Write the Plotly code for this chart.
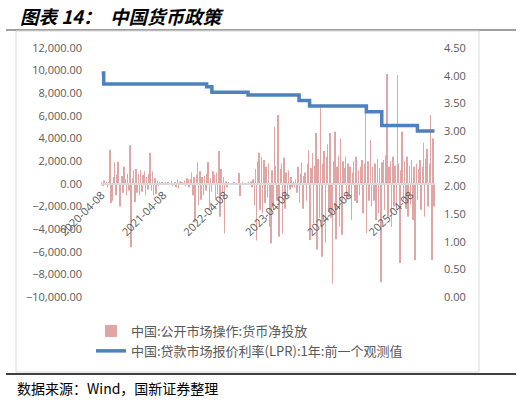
import pandas as pd
import plotly.graph_objects as go

# 中国:公开市场操作:货币净投放 (亿元), one value per week from 2020-04-08
omo_start = '2020-04-08'
omo_net = [
    150, -200, 300, -100, 200, -300, 100, 3000, -1700, -1500,
    600, 1900, -1000, 800, 1950, -2000, -2000, 700, -800, 1500,
    400, -1000, 900, -600, 3400, -5600, 500, 1200, -1600, 1300,
    -800, 900, -1000, 1200, -700, 800, 1100, -1000, 600, -500,
    900, 2750, -600, 1100, -1000, 500, -900, 300, -200, 100,
    -100, 100, 0, -100, 100, 0, 100, -100, 0, 300,
    -200, 0, 100, -300, 400, -400, 200, 0, 100, -100,
    300, -200, 500, 400, -300, 420, 1000, -1000, 600, -3350,
    800, 1930, -1900, 1100, -1400, 600, -1000, 700, -600, 900,
    1930, -2300, 500, -700, 1100, 800, -1400, 1000, -900, 2900,
    -2900, 1300, -800, 600, -4380, 200, -300, 100, -100, 0,
    50, -50, 100, 0, -100, 50, 950, -1080, 0, 100,
    -100, 0, 50, -50, 100, 0, 200, -300, 400, -1900,
    1300, -5000, 2000, 2750, -2300, 2400, -2600, 2100, -1700, 1500,
    -1200, 1800, -3800, -5240, 1200, -2000, 5050, 1600, -1500, 6090,
    -4680, 1300, 1800, -4400, 2300, -2200, 1000, -1200, 1200, -500,
    600, -300, 200, -300, 400, -800, 1500, -1700, 900, 1900,
    -2200, 700, 1000, -1500, 1800, 2960, -4970, 1400, 2700, -3500,
    1600, 4490, -5800, 2200, -3000, 7000, -6450, 1800, 2900, -5200,
    2400, 3500, -2500, 4500, -3000, -8800, 2000, 4600, -4900, 1500,
    2500, -3800, 4000, -4500, 2000, 1400, 2400, -1400, 1800, -1200,
    1500, -3200, 1000, 2000, -1500, 2400, -1700, 1200, -1000, 1500,
    2100, -2600, 1800, 6500, -4350, 2000, -1500, 3880, -2000, 1500,
    -1500, 1800, -3200, 2200, -2600, 1400, -8700, 1900, 2100, -2300,
    2500, 9700, -2900, 1500, 2000, -3800, 2400, -2000, 1600, -1900,
    9600, 1800, -7000, 1200, 4600, -1500, 2000, -2200, 2400, -2900,
    1600, -1800, 2100, -3200, 1500, -6740, 1800, -1400, 1300, 2100,
    -2300, 1500, 3620, -2900, 2200, 3100, -2000, 1800, 6090, -6740,
    4000, -2000,
]

# 中国:贷款市场报价利率(LPR):1年 (%), value from each change date on
lpr_dates = ['2020-04-08', '2020-04-20', '2021-12-20', '2022-01-20', '2022-08-22',
             '2023-06-20', '2023-08-21', '2024-07-22', '2024-10-21', '2025-05-20', '2025-08-29']
lpr_values = [4.05, 3.85, 3.80, 3.70, 3.65, 3.55, 3.45, 3.35, 3.10, 3.00, 3.00]

x_tick_dates = ['2020-04-08', '2021-04-08', '2022-04-08', '2023-04-08', '2024-04-08', '2025-04-08']

omo_dates = pd.date_range(omo_start, periods=len(omo_net), freq='7D')

# plot area in pixels (page body margin is removed below, so these are window pixels)
W, H = 530, 402
L, R, T, B = 101, 95, 48, 105
pw, ph = W - L - R, H - T - B


def px(x):
    return (x - L) / pw


def py(y):
    return (H - B - y) / ph


fig = go.Figure()
fig.add_trace(go.Bar(x=omo_dates, y=omo_net, name='中国:公开市场操作:货币净投放',
                     marker=dict(color='#C0504D', line_width=0), opacity=0.5))
fig.add_trace(go.Scatter(x=lpr_dates, y=lpr_values, mode='lines', yaxis='y2',
                         name='中国:贷款市场报价利率(LPR):1年:前一个观测值',
                         line=dict(color='#4F81BD', width=3.5, shape='hv')))

tick_font = dict(family='Open Sans, Liberation Sans, sans-serif', size=11, color='#595959')

fig.update_layout(
    width=W, height=H, margin=dict(l=L, r=R, t=T, b=B, autoexpand=False),
    paper_bgcolor='white', plot_bgcolor='white', bargap=0.55,
    showlegend=True,
    xaxis=dict(type='date', range=['2020-04-04', '2025-09-01'], tickvals=x_tick_dates,
               tickformat='%Y-%m-%d', tickangle=-45, anchor='free', position=10 / 22,
               showline=True, linecolor='#d9d9d9', linewidth=1.5, showgrid=False,
               zeroline=False, ticks='', tickfont=tick_font, automargin=False),
    yaxis=dict(range=[-10000, 12000], dtick=2000, tickformat=',.2f', showgrid=False,
               zeroline=False, ticks='', tickfont=tick_font, ticklabelstandoff=18,
               automargin=False),
    yaxis2=dict(range=[0, 4.5], dtick=0.5, tickformat='.2f', overlaying='y', side='right',
                showgrid=False, zeroline=False, ticks='', tickfont=tick_font,
                ticklabelstandoff=8, automargin=False),
    legend=dict(xref='container', yref='container', x=91 / W, y=1 - 316 / H,
                xanchor='left', yanchor='top', bgcolor='rgba(0,0,0,0)',
                font=dict(family='Noto Sans CJK SC', size=13, color='#595959'),
                tracegroupgap=8),
    shapes=[
        dict(type='line', xref='paper', yref='paper', x0=px(6), x1=px(516), y0=py(30), y1=py(30),
             line=dict(color='#808080', width=1.5)),
        dict(type='rect', xref='paper', yref='paper', x0=px(16), x1=px(479), y0=py(31), y1=py(372),
             line=dict(color='#d9d9d9', width=1)),
        dict(type='line', xref='paper', yref='paper', x0=px(6), x1=px(516), y0=py(374), y1=py(374),
             line=dict(color='black', width=1.5)),
    ],
    annotations=[
        dict(text='<b><i>图表 14：  中国货币政策</i></b>', xref='paper', yref='paper',
             x=px(19), y=py(16.5), xanchor='left', yanchor='middle', showarrow=False,
             borderpad=0, font=dict(family='Noto Sans CJK SC', size=18.5, color='black')),
        dict(text='数据来源：Wind，国新证券整理', xref='paper', yref='paper',
             x=px(16), y=py(388), xanchor='left', yanchor='middle', showarrow=False,
             borderpad=0, font=dict(family='Noto Sans CJK SC', size=14, color='black')),
    ],
)

fig.write_html('out.html', config={'displayModeBar': False},
               post_script="document.body.style.margin='0';")
